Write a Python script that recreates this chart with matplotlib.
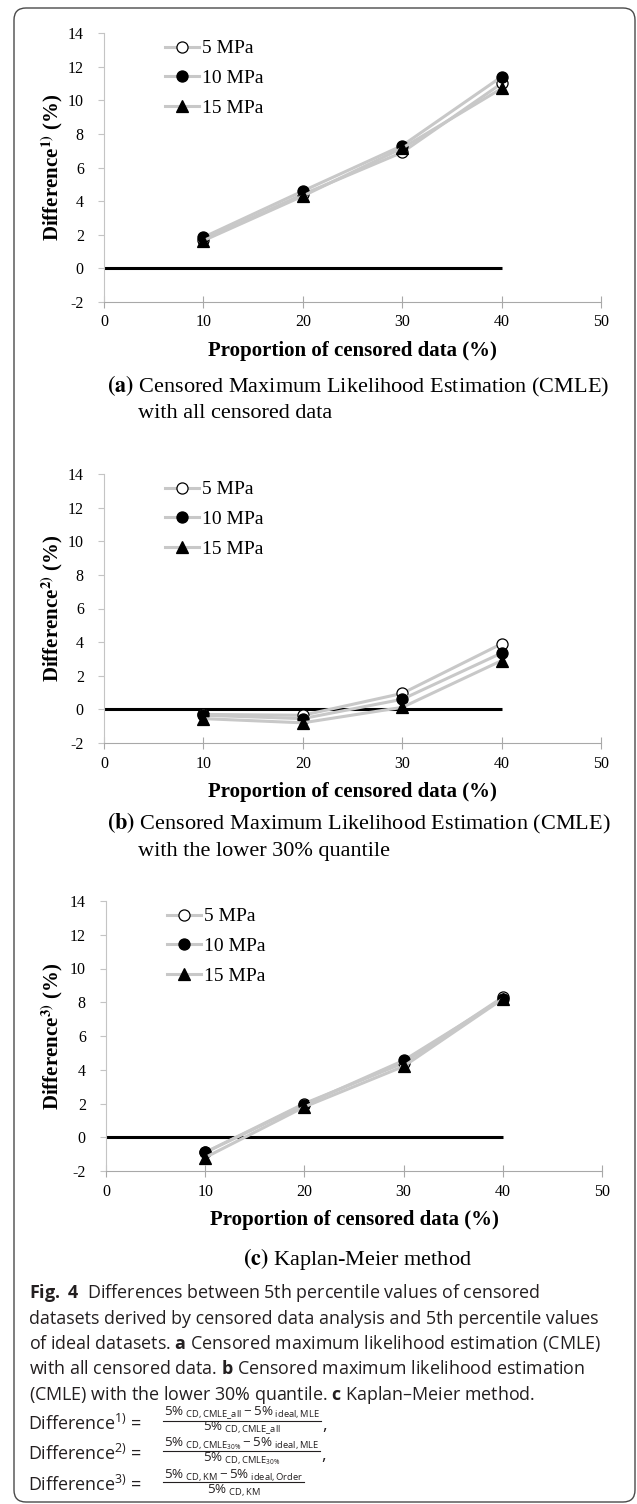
import matplotlib
matplotlib.use("Agg")
import matplotlib.pyplot as plt
from matplotlib.patches import FancyBboxPatch
from matplotlib.lines import Line2D
from matplotlib.transforms import IdentityTransform

plt.rcParams["font.family"] = ["Liberation Serif", "DejaVu Serif"]
plt.rcParams["mathtext.fontset"] = "custom"
plt.rcParams["mathtext.rm"] = "Open Sans"
plt.rcParams["mathtext.it"] = "Open Sans:italic"
plt.rcParams["mathtext.bf"] = "Open Sans:bold"

# data
proportion = [10, 20, 30, 40]
pressure_labels = ["5 MPa", "10 MPa", "15 MPa"]
zero_line_x = [0, 40]
zero_line_y = [0, 0]

cmle_all_5 = [1.7, 4.4, 6.9, 11.0]
cmle_all_10 = [1.85, 4.6, 7.3, 11.4]
cmle_all_15 = [1.65, 4.3, 7.15, 10.7]

cmle_30_5 = [-0.3, -0.35, 0.95, 3.9]
cmle_30_10 = [-0.35, -0.55, 0.6, 3.35]
cmle_30_15 = [-0.55, -0.8, 0.12, 2.9]

km_5 = [-0.9, 2.0, 4.4, 8.3]
km_10 = [-0.9, 1.93, 4.55, 8.2]
km_15 = [-1.2, 1.8, 4.2, 8.2]

x_ticks = [0, 10, 20, 30, 40, 50]
y_ticks = [-2, 0, 2, 4, 6, 8, 10, 12, 14]

W, H = 637, 1504
fig = plt.figure(figsize=(W / 100, H / 100), dpi=100)


def fx(x):
    return x / W


def fy(y):
    return 1 - y / H


marker_styles = [
    dict(marker="o", mfc="white", mec="black", ms=8, mew=0.9),
    dict(marker="o", mfc="black", mec="black", ms=8, mew=0.9),
    dict(marker="^", mfc="black", mec="black", ms=8.5, mew=0.9),
]


def draw_panel(left, top, right, bottom, series, sup):
    ax = fig.add_axes([fx(left), fy(bottom), (right - left) / W, (bottom - top) / H])
    ax.plot(zero_line_x, zero_line_y, color="black", lw=2.2, zorder=2, solid_capstyle="butt")
    handles = []
    for ys, label, st in zip(series, pressure_labels, marker_styles):
        (h,) = ax.plot(proportion, ys, color="#c8c8c8", lw=2.2, label=label, zorder=3, **st)
        handles.append(h)
    ax.set_xlim(0, 50)
    ax.set_ylim(-2, 14)
    ax.set_xticks(x_ticks)
    ax.set_yticks(y_ticks)
    ax.set_yticklabels([str(v) for v in y_ticks])
    for s in ["top", "right"]:
        ax.spines[s].set_visible(False)
    ax.spines["left"].set_color("#c4c4c4")
    ax.spines["bottom"].set_color("#a8a8a8")
    ax.tick_params(axis="y", direction="out", length=4, color="#c4c4c4",
                   labelsize=11.5, pad=10.5)
    ax.tick_params(axis="x", direction="inout", length=8, color="#a8a8a8",
                   labelsize=11.5, pad=5)
    ax.legend(handles=handles, loc="upper left", bbox_to_anchor=(0.123, 0.975),
              frameon=False, fontsize=14, handlelength=1.75, handletextpad=0.15,
              labelspacing=0.62, borderpad=0, borderaxespad=0)
    cy = (top + bottom) / 2
    fig.text(fx(52), fy(cy), r"Difference$^{\mathbf{" + sup + r")}}$ (%)",
             rotation=90, ha="center", va="center", fontsize=15,
             fontweight="bold", math_fontfamily="stix")
    fig.text(fx((left + right) / 2), fy(bottom + 54), "Proportion of censored data (%)",
             ha="center", va="baseline", fontsize=15, fontweight="bold")
    return ax


draw_panel(104, 33, 601, 302, [cmle_all_5, cmle_all_10, cmle_all_15], "1")
draw_panel(104, 474, 601, 743, [cmle_30_5, cmle_30_10, cmle_30_15], "2")
draw_panel(106, 901, 602, 1171, [km_5, km_10, km_15], "3")

sub_kw = dict(fontsize=16, va="baseline", math_fontfamily="stix")
fig.text(fx(107), fy(392), r"$\mathbf{(a)}$ Censored Maximum Likelihood Estimation (CMLE)", **sub_kw)
fig.text(fx(138), fy(418), "with all censored data", **sub_kw)
fig.text(fx(107), fy(829), r"$\mathbf{(b)}$ Censored Maximum Likelihood Estimation (CMLE)", **sub_kw)
fig.text(fx(138), fy(856), "with the lower 30% quantile", **sub_kw)
fig.text(fx(357), fy(1265), r"$\mathbf{(c)}$ Kaplan-Meier method", ha="center", **sub_kw)

# caption
ink = "#231f20"
cap_kw = dict(fontsize=12.9, va="baseline", family="Open Sans", math_fontfamily="custom",
              color=ink)
caption_lines = [
    r"$\mathbf{Fig.\ 4}$  Differences between 5th percentile values of censored",
    "datasets derived by censored data analysis and 5th percentile values",
    r"of ideal datasets. $\mathbf{a}$ Censored maximum likelihood estimation (CMLE)",
    r"with all censored data. $\mathbf{b}$ Censored maximum likelihood estimation",
    r"(CMLE) with the lower 30% quantile. $\mathbf{c}$ Kaplan–Meier method.",
]
caption_base = [1298, 1323.5, 1349, 1374.5, 1400]
for line, yb in zip(caption_lines, caption_base):
    fig.text(fx(29), fy(yb), line, **cap_kw)

numerators = [
    r"$5\%_{\ \rm CD,CMLE\_all}-5\%_{\ \rm ideal,MLE}$",
    r"$5\%_{\ \rm CD,CMLE_{30\%}}-5\%_{\ \rm ideal,MLE}$",
    r"$5\%_{\ \rm CD,KM}-5\%_{\ \rm ideal,Order}$",
]
denominators = [
    r"$5\%_{\ \rm CD,CMLE\_all}$",
    r"$5\%_{\ \rm CD,CMLE_{30\%}}$",
    r"$5\%_{\ \rm CD,KM}$",
]
trailing = [",", ",", ""]
formula_base = [1430, 1460, 1491]

renderer = fig.canvas.get_renderer()
frac_kw = dict(fontsize=9.6, va="baseline", ha="center", family="Open Sans",
               math_fontfamily="custom", color=ink)
x_frac = 163
for i, (num, den, tr, yb) in enumerate(zip(numerators, denominators, trailing, formula_base)):
    fig.text(fx(28), fy(yb), r"Difference$^{%d)}$ =" % (i + 1), **cap_kw)
    tn = fig.text(fx(x_frac), fy(yb - 13.5), num, **frac_kw)
    td = fig.text(fx(x_frac), fy(yb + 1.5), den, **frac_kw)
    wn = tn.get_window_extent(renderer).width
    wd = td.get_window_extent(renderer).width
    wbar = max(wn, wd) + 2
    tn.set_x(fx(x_frac + wbar / 2))
    td.set_x(fx(x_frac + wbar / 2))
    fig.add_artist(Line2D([fx(x_frac), fx(x_frac + wbar)], [fy(yb - 9.5)] * 2,
                          transform=fig.transFigure, color=ink, lw=0.8))
    if tr:
        fig.text(fx(x_frac + wbar + 1), fy(yb), tr, **cap_kw)

box = FancyBboxPatch((14, 2), 621, 1494, boxstyle="round,pad=0,rounding_size=12",
                     transform=IdentityTransform(), facecolor="none",
                     edgecolor="#4a4a4a", lw=1.0)
fig.add_artist(box)

fig.savefig("out.png", dpi=100)
